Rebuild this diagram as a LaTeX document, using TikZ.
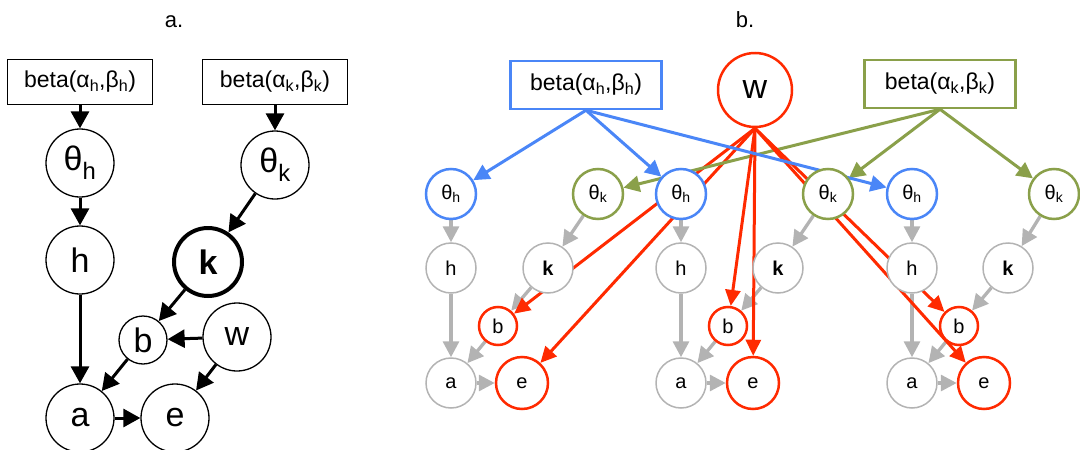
\documentclass[tikz,border=0pt]{standalone}
\usepackage{fontspec}
\setmainfont{Liberation Sans}
\usetikzlibrary{arrows.meta}
\pgfdeclarelayer{bg}
\pgfsetlayers{bg,main}
\definecolor{cblue}{HTML}{4A86F7}
\definecolor{cgreen}{HTML}{8AA04A}
\definecolor{cred}{HTML}{FF2A00}
\definecolor{cgray}{HTML}{B3B3B3}
\newcommand\sbs[1]{\textsubscript{#1}}
\tikzset{
  lbl/.style={anchor=base, font=\fontsize{22}{26}\selectfont},
  anode/.style={circle, draw=black, line width=1.3pt, fill=white, minimum size=68pt, inner sep=0pt, font=\fontsize{34}{40}\selectfont},
  abox/.style={draw=black, line width=1pt, fill=white, minimum width=145pt, minimum height=45pt, inner sep=0pt, font=\fontsize{23}{27}\selectfont},
  aarr/.style={line width=3pt, -{Triangle[length=17pt,width=18pt]}},
  bbox/.style={line width=2.5pt, fill=white, minimum width=151pt, minimum height=48pt, inner sep=0pt, font=\fontsize{23}{27}\selectfont},
  bnode/.style={circle, fill=white, minimum size=50pt, inner sep=0pt, font=\fontsize{20}{24}\selectfont},
  gnode/.style={bnode, draw=cgray, line width=1.5pt},
  bluenode/.style={bnode, draw=cblue, line width=2.5pt},
  greennode/.style={bnode, draw=cgreen, line width=2.5pt},
  rednode/.style={bnode, draw=cred, line width=2.5pt},
  garr/.style={cgray, line width=3.3pt, -{Triangle[length=16pt,width=16pt]}},
  bluearr/.style={cblue, line width=3pt, -{Triangle[length=16pt,width=16pt]}},
  greenarr/.style={cgreen, line width=3pt, -{Triangle[length=16pt,width=16pt]}},
  redarr/.style={cred, line width=3pt, -{Triangle[length=16pt,width=15pt]}},
}
\begin{document}
\begin{tikzpicture}[x=1pt,y=-1pt]
\useasboundingbox (0,0) rectangle (1080,450);
% ---------- panel a ----------
\node[lbl] (la) at (174,27) {a.};
\node[abox] (bah) at (80,82) {beta(α\sbs{h},β\sbs{h})};
\node[abox] (bak) at (275,82) {beta(α\sbs{k},β\sbs{k})};
\node[anode] (tha) at (80,163) {θ\sbs{h}};
\node[anode] (tka) at (275,165) {θ\sbs{k}};
\node[anode] (ha) at (80,260) {h};
\node[anode, line width=4pt] (ka) at (208,262) {\textbf{k}};
\node[anode, minimum size=48pt] (ba) at (143,340) {b};
\node[anode] (wa) at (237,337) {w};
\node[anode] (aa) at (80,418) {a};
\node[anode] (ea) at (175,418) {e};
\begin{pgfonlayer}{bg}
\draw[aarr] (bah.south) -- (tha);
\draw[aarr] (bak.south) -- (tka);
\draw[aarr] (tha) -- (ha);
\draw[aarr] (tka) -- (ka);
\draw[aarr] (ha) -- (aa);
\draw[aarr] (ka) -- (ba);
\draw[aarr] (wa) -- (ba);
\draw[aarr] (ba) -- (aa);
\draw[aarr] (wa) -- (ea);
\draw[aarr] (aa) -- (ea);
\end{pgfonlayer}
% ---------- panel b ----------
\node[lbl] (lb) at (745,27) {b.};
\node[bbox, draw=cblue] (bbh) at (586,85) {beta(α\sbs{h},β\sbs{h})};
\node[rednode, minimum size=74pt, font=\fontsize{34}{40}\selectfont] (w) at (755,90) {w};
\node[bbox, draw=cgreen] (bbk) at (940,84) {beta(α\sbs{k},β\sbs{k})};
\node[bluenode] (th1) at (451,194) {θ\sbs{h}};
\node[greennode] (tk1) at (598,194) {θ\sbs{k}};
\node[bluenode] (th2) at (681,194) {θ\sbs{h}};
\node[greennode] (tk2) at (828,194) {θ\sbs{k}};
\node[bluenode] (th3) at (912,194) {θ\sbs{h}};
\node[greennode] (tk3) at (1054,194) {θ\sbs{k}};
\node[gnode] (h1) at (451,268) {h};
\node[gnode] (k1) at (548,268) {\textbf{k}};
\node[gnode] (h2) at (681,268) {h};
\node[gnode] (k2) at (778,268) {\textbf{k}};
\node[gnode] (h3) at (912,268) {h};
\node[gnode] (k3) at (1008,268) {\textbf{k}};
\node[rednode, minimum size=38pt] (b1) at (498,326) {b};
\node[rednode, minimum size=38pt] (b2) at (728,326) {b};
\node[rednode, minimum size=38pt] (b3) at (959,326) {b};
\node[gnode] (a1) at (451,383) {a};
\node[rednode, minimum size=52pt] (e1) at (522,383) {e};
\node[gnode] (a2) at (681,383) {a};
\node[rednode, minimum size=52pt] (e2) at (753,383) {e};
\node[gnode] (a3) at (912,383) {a};
\node[rednode, minimum size=52pt] (e3) at (984,383) {e};
\begin{pgfonlayer}{bg}
\foreach \i in {1,2,3}{
  \draw[garr] (th\i) -- (h\i);
  \draw[garr] (tk\i) -- (k\i);
  \draw[garr] (h\i) -- (a\i);
  \draw[garr] (k\i) -- (b\i);
  \draw[garr] (b\i) -- (a\i);
  \draw[garr] (a\i) -- (e\i);
  \draw[redarr] (w.south) -- (b\i);
  \draw[redarr] (w.south) -- (e\i);
  \draw[bluearr] (bbh.south) -- (th\i);
  \draw[greenarr] (bbk.south) -- (tk\i);
}
\end{pgfonlayer}
\end{tikzpicture}
\end{document}
